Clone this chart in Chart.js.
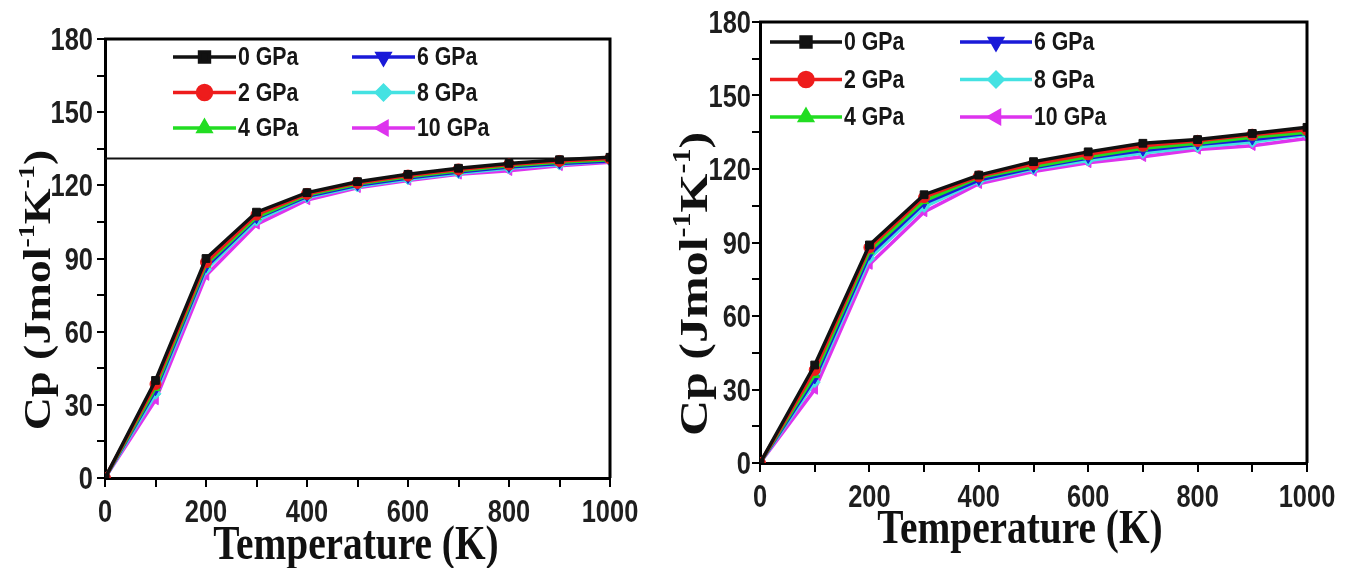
<!DOCTYPE html>
<html>
<head>
<meta charset="utf-8">
<script src="https://cdn.jsdelivr.net/npm/chart.js@4.4.0/dist/chart.umd.min.js"></script>
<style>
    body { margin: 0; background: #fff; width: 1358px; height: 568px; overflow: hidden; position: relative; }
    #leftChart { position: absolute; left: 0; top: 0; }
    #rightChart { position: absolute; left: 650px; top: 0; }
</style>
</head>
<body>
<canvas id="leftChart" width="650" height="568"></canvas>
<canvas id="rightChart" width="708" height="568"></canvas>
<script>
// Shared x values and series labels
const temperatures = [0, 100, 200, 300, 400, 500, 600, 700, 800, 900, 1000];
const pressureLabels = ['0 GPa', '2 GPa', '4 GPa', '6 GPa', '8 GPa', '10 GPa'];
const seriesColors = ['#111111', '#ee1c1c', '#22dd22', '#1a1ad8', '#44e2e2', '#dd33ee'];
const markerStyles = ['rect', 'circle', 'triangle', 'triangle', 'rectRot', 'triangle'];
const markerRotations = [0, 0, 0, 180, 0, -90];

// Left panel Cp values
const leftCp0 = [0, 40, 90, 109, 117, 121.5, 124.5, 127, 129, 130.5, 131.5];
const leftCp2 = [0, 38.5, 88.5, 108, 116.5, 121, 124, 126.5, 128.5, 130, 131];
const leftCp4 = [0, 37, 87.5, 107, 116, 120.5, 123.5, 126, 128, 129.5, 130.5];
const leftCp6 = [0, 36, 86.5, 106.5, 115.5, 120, 123, 125.5, 127.5, 129, 130];
const leftCp8 = [0, 34.5, 85.5, 105.5, 115, 119.5, 122.5, 125, 127, 128.5, 130];
const leftCp10 = [0, 32, 83, 104, 114, 119, 122, 124.5, 126, 128, 129.5];
// stray horizontal line crossing the left panel
const leftLineX = [0, 1000];
const leftLineY = [131, 131];

// Right panel Cp values
const rightCp0 = [0, 40, 89, 109.5, 117.5, 123, 127, 130.5, 132, 134.5, 137];
const rightCp2 = [0, 38, 88, 108.5, 117, 122, 126, 129.5, 131.5, 134, 136];
const rightCp4 = [0, 36, 86.5, 107, 116.5, 121, 125, 128.5, 130.5, 133, 135];
const rightCp6 = [0, 34.5, 85, 106, 115.5, 120.5, 124.5, 127.5, 130, 132, 134.5];
const rightCp8 = [0, 33, 83.5, 104.5, 115, 120, 123.5, 126.5, 129, 131, 134];
const rightCp10 = [0, 30, 81, 102.5, 114, 119, 122.5, 125, 128, 129.5, 132.5];

// Axis ticks
const xMajorTicks = [0, 200, 400, 600, 800, 1000];
const yMajorTicks = [0, 30, 60, 90, 120, 150, 180];

const SANS_FONT = "'Liberation Sans', Arial, sans-serif";
const TITLE_FONT = "'Liberation Serif', 'Times New Roman', serif";
const SQUEEZE = 0.82; // the source figure is horizontally condensed

function buildDatasets(seriesList) {
    return seriesList.map((vals, i) => ({
        label: pressureLabels[i],
        data: temperatures.map((t, j) => ({ x: t, y: vals[j] })),
        borderColor: seriesColors[i],
        backgroundColor: seriesColors[i],
        pointBorderColor: seriesColors[i],
        borderWidth: 3.5,
        pointStyle: markerStyles[i],
        rotation: markerRotations[i],
        pointRadius: 5.5,
        pointBorderWidth: 1,
        tension: 0
    }));
}

function squeezedText(ctx, text, x, y, align) {
    ctx.save();
    ctx.translate(x, y);
    ctx.scale(SQUEEZE, 1);
    ctx.textAlign = align;
    ctx.fillText(text, 0, 0);
    ctx.restore();
}

// Frame, tick labels, inside legend and axis titles
const decorPlugin = {
    id: 'decor',
    afterDraw(chart, args, opts) {
        const { ctx, chartArea: a } = chart;
        const helpers = Chart.helpers;
        ctx.save();

        // top + right frame
        ctx.strokeStyle = '#000';
        ctx.lineWidth = 3;
        ctx.beginPath();
        ctx.moveTo(a.left - 1, a.top);
        ctx.lineTo(a.right, a.top);
        ctx.lineTo(a.right, a.bottom);
        ctx.stroke();

        // tick labels placed by the library's scales
        ctx.fillStyle = '#1e1e1e';
        ctx.font = 'bold 31px ' + SANS_FONT;
        ctx.textBaseline = 'alphabetic';
        const xs = chart.scales.x, ys = chart.scales.y;
        xs.ticks.forEach(t => {
            if (!xMajorTicks.includes(t.value)) return;
            squeezedText(ctx, String(t.value), xs.getPixelForValue(t.value), a.bottom + opts.xLabelDrop, 'center');
        });
        ys.ticks.forEach(t => {
            if (!yMajorTicks.includes(t.value)) return;
            squeezedText(ctx, String(t.value), a.left - opts.yLabelGap, ys.getPixelForValue(t.value) + 11, 'right');
        });

        // legend: two columns of three
        ctx.font = 'bold ' + opts.legendFontSize + 'px ' + SANS_FONT;
        ctx.textBaseline = 'middle';
        for (let i = 0; i < 6; i++) {
            const col = Math.floor(i / 3), row = i % 3;
            const x0 = a.left + opts.legendX[col];
            const y0 = a.top + opts.legendY + row * opts.legendRow;
            const ds = chart.data.datasets[i];
            ctx.strokeStyle = ds.borderColor;
            ctx.fillStyle = ds.borderColor;
            ctx.lineWidth = 3.5;
            ctx.beginPath();
            ctx.moveTo(x0, y0);
            ctx.lineTo(x0 + opts.legendLine, y0);
            ctx.stroke();
            helpers.drawPoint(ctx, {
                pointStyle: ds.pointStyle, rotation: ds.rotation,
                radius: 7, borderWidth: 1
            }, x0 + opts.legendLine / 2, y0);
            ctx.fillStyle = '#161616';
            squeezedText(ctx, ds.label, x0 + opts.legendLine + 2, y0 + 1, 'left');
        }

        // x title, horizontally condensed
        ctx.fillStyle = '#111';
        ctx.textBaseline = 'alphabetic';
        ctx.font = 'bold 48px ' + TITLE_FONT;
        squeezedText(ctx, 'Temperature (K)', opts.xTitleX, opts.xTitleY, 'center');

        // y title with superscripts
        const size = opts.yTitleSize;
        const supSize = Math.round(size * 0.6);
        const parts = [
            { t: 'Cp (Jmol', sup: false },
            { t: '-1', sup: true },
            { t: 'K', sup: false },
            { t: '-1', sup: true },
            { t: ')', sup: false }
        ];
        ctx.save();
        ctx.translate(opts.yTitleX, opts.yTitleY);
        ctx.rotate(-Math.PI / 2);
        ctx.scale(1, SQUEEZE);
        ctx.textAlign = 'left';
        let total = 0;
        parts.forEach(p => {
            ctx.font = 'bold ' + (p.sup ? supSize : size) + 'px ' + TITLE_FONT;
            p.w = ctx.measureText(p.t).width;
            total += p.w;
        });
        let cx = -total / 2;
        parts.forEach(p => {
            ctx.font = 'bold ' + (p.sup ? supSize : size) + 'px ' + TITLE_FONT;
            ctx.fillText(p.t, cx, p.sup ? -size * 0.42 : 0);
            cx += p.w;
        });
        ctx.restore();

        ctx.restore();
    }
};

function buildScales(xHeight, yWidth) {
    return {
        x: {
            type: 'linear', min: 0, max: 1000,
            ticks: { stepSize: 100, autoSkip: false, maxRotation: 0, display: false },
            grid: { drawOnChartArea: false, drawTicks: true, tickLength: 9, color: '#000', lineWidth: 2 },
            border: { color: '#000', width: 3 },
            afterFit: s => { s.height = xHeight; }
        },
        y: {
            type: 'linear', min: 0, max: 180,
            ticks: { stepSize: 15, autoSkip: false, display: false },
            grid: { drawOnChartArea: false, drawTicks: true, tickLength: 8, color: '#000', lineWidth: 2 },
            border: { color: '#000', width: 3 },
            afterFit: s => { s.width = yWidth; }
        }
    };
}

const leftDatasets = buildDatasets([leftCp0, leftCp2, leftCp4, leftCp6, leftCp8, leftCp10]);
leftDatasets.push({
    label: 'line',
    data: leftLineX.map((x, i) => ({ x: x, y: leftLineY[i] })),
    borderColor: '#111',
    borderWidth: 2,
    pointRadius: 0
});

new Chart(document.getElementById('leftChart'), {
    type: 'line',
    data: { datasets: leftDatasets },
    options: {
        responsive: false,
        animation: false,
        layout: { padding: { left: 0, right: 40, top: 39, bottom: 0 } },
        plugins: {
            legend: { display: false },
            tooltip: { enabled: false },
            decor: {
                legendFontSize: 26, legendX: [68, 247], legendY: 18, legendRow: 35.5, legendLine: 63,
                xLabelDrop: 44, yLabelGap: 12,
                xTitleX: 356, xTitleY: 559,
                yTitleX: 50, yTitleY: 290, yTitleSize: 46
            }
        },
        scales: buildScales(90, 105)
    },
    plugins: [decorPlugin]
});

new Chart(document.getElementById('rightChart'), {
    type: 'line',
    data: { datasets: buildDatasets([rightCp0, rightCp2, rightCp4, rightCp6, rightCp8, rightCp10]) },
    options: {
        responsive: false,
        animation: false,
        layout: { padding: { left: 0, right: 51, top: 22, bottom: 0 } },
        plugins: {
            legend: { display: false },
            tooltip: { enabled: false },
            decor: {
                legendFontSize: 26, legendX: [10, 200], legendY: 20, legendRow: 37.5, legendLine: 72,
                xLabelDrop: 44, yLabelGap: 9,
                xTitleX: 370, xTitleY: 543,
                yTitleX: 57, yTitleY: 284, yTitleSize: 50
            }
        },
        scales: buildScales(105, 110)
    },
    plugins: [decorPlugin]
});
</script>
</body>
</html>
